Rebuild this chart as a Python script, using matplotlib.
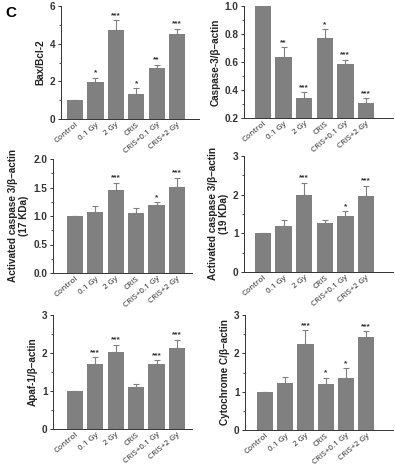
import matplotlib
matplotlib.use("Agg")
import matplotlib.pyplot as plt
from matplotlib.ticker import MultipleLocator
import numpy as np

plt.rcParams['font.family'] = ['Liberation Sans', 'DejaVu Sans']

categories = ["Control", "0.1 Gy", "2 Gy", "CRIS", "CRIS+0.1 Gy", "CRIS+2 Gy"]

bax_vals = [1.0, 1.97, 4.75, 1.32, 2.69, 4.49]
bax_err = [0.0, 0.23, 0.50, 0.32, 0.20, 0.30]
bax_sig = ["", "*", "***", "*", "**", "***"]

casp_vals = [1.0, 0.634, 0.34, 0.774, 0.587, 0.307]
casp_err = [0.0, 0.07, 0.043, 0.06, 0.028, 0.035]
casp_sig = ["", "**", "***", "*", "***", "***"]

act17_vals = [1.0, 1.07, 1.456, 1.047, 1.187, 1.515]
act17_err = [0.0, 0.10, 0.13, 0.09, 0.05, 0.15]
act17_sig = ["", "", "***", "", "*", "***"]

act19_vals = [1.0, 1.195, 2.0, 1.255, 1.436, 1.96]
act19_err = [0.0, 0.15, 0.31, 0.08, 0.13, 0.27]
act19_sig = ["", "", "***", "", "*", "***"]

apaf_vals = [1.0, 1.71, 2.02, 1.10, 1.71, 2.12]
apaf_err = [0.0, 0.18, 0.19, 0.09, 0.10, 0.23]
apaf_sig = ["", "***", "***", "", "***", "***"]

cyto_vals = [1.0, 1.22, 2.24, 1.21, 1.36, 2.42]
cyto_err = [0.0, 0.15, 0.36, 0.15, 0.25, 0.15]
cyto_sig = ["", "", "***", "*", "*", "***"]

W, H = 395, 466
fig = plt.figure(figsize=(W / 100, H / 100), dpi=100)

bar_color = "#808080"

panels = [
    (61, 199, 6, 119, bax_vals, bax_err, bax_sig, "Bax/Bcl-2", (0, 6), 2, 1, "{:.0f}", (-0.68, 6.07)),
    (244, 393, 6, 118, casp_vals, casp_err, casp_sig, "Caspase-3/β–actin", (0.2, 1.0), 0.2, 0.1, "{:.1f}", (-0.93, 6.32)),
    (53, 192, 159, 273, act17_vals, act17_err, act17_sig, "Activated caspase 3/β–actin\n(17 KDa)", (0, 2.0), 0.5, 0.25, "{:.1f}", (-1.07, 5.73)),
    (244, 393, 156, 272, act19_vals, act19_err, act19_sig, "Activated caspase 3/β–actin\n(19 KDa)", (0, 3), 1, 0.5, "{:.0f}", (-0.93, 6.32)),
    (53, 192, 315, 429, apaf_vals, apaf_err, apaf_sig, "Apaf-1/β–actin", (0, 3), 1, 0.5, "{:.0f}", (-1.07, 5.73)),
    (245, 393, 315, 430, cyto_vals, cyto_err, cyto_sig, "Cytochrome C/β–actin", (0, 3), 1, 0.5, "{:.0f}", (-0.98, 6.32)),
]

x = np.arange(len(categories))
for (l, r, t, b, vals, errs, sig, ylabel, ylim, major, minor, fmt, xlim) in panels:
    ax = fig.add_axes([l / W, (H - b) / H, (r - l) / W, (b - t) / H])
    ax.bar(x, vals, width=0.8, color=bar_color, zorder=2)
    errs_arr = np.array(errs)
    ax.errorbar(x, vals, yerr=[np.zeros_like(errs_arr), errs_arr], fmt="none",
                ecolor=bar_color, elinewidth=0.8, capsize=2.2, capthick=0.8, zorder=1)
    span = ylim[1] - ylim[0]
    for xi, v, e, s in zip(x, vals, errs, sig):
        if s:
            ax.text(xi, v + e + span * 0.012, s, ha="center", va="bottom",
                    fontsize=6, fontweight="bold", color="#333333")
    ax.set_ylim(*ylim)
    ax.set_xlim(*xlim)
    ax.yaxis.set_major_locator(MultipleLocator(major))
    ax.yaxis.set_minor_locator(MultipleLocator(minor))
    ax.yaxis.set_major_formatter(plt.FuncFormatter(lambda v, p, f=fmt: f.format(v)))
    for sp in ["top", "right"]:
        ax.spines[sp].set_visible(False)
    for sp in ["left", "bottom"]:
        ax.spines[sp].set_linewidth(0.7)
        ax.spines[sp].set_color("#333333")
    ax.tick_params(axis="y", which="major", length=2.5, width=0.7, labelsize=7.2,
                   pad=1.5, colors="#333333")
    ax.tick_params(axis="y", which="minor", length=1.5, width=0.6, colors="#333333")
    for lab in ax.get_yticklabels():
        lab.set_fontweight("bold")
    ax.set_xticks(x)
    ax.set_xticklabels(categories, rotation=40, ha="right", rotation_mode="anchor",
                       fontsize=5.9, family=["Open Sans", "DejaVu Sans"], color="#222222")
    ax.tick_params(axis="x", length=0, pad=1.5)
    ax.set_ylabel(ylabel, fontsize=7.2, fontweight="bold", labelpad=3, color="#222222",
                  linespacing=1.1)

fig.text(5 / W, 1 - 13 / H, "C", fontsize=11, fontweight="bold", va="center", ha="left")

fig.savefig("out.png", dpi=100)
